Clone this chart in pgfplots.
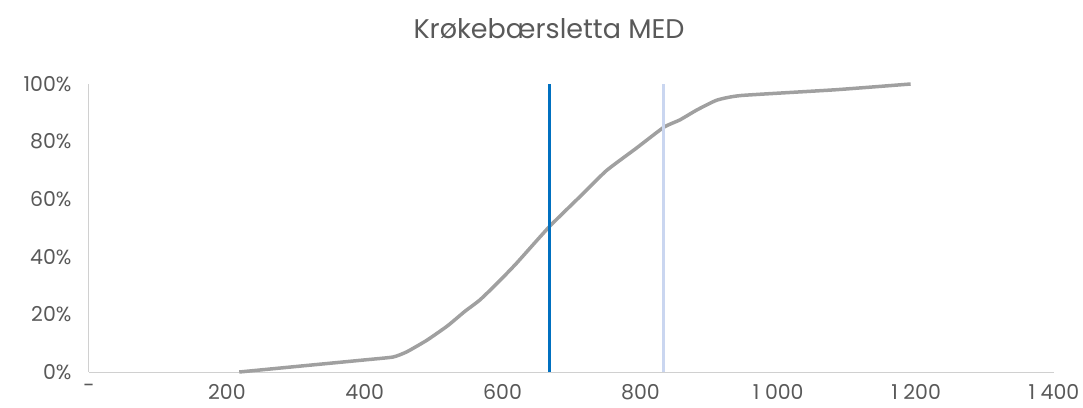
\documentclass[border=0pt]{standalone}
\usepackage{fontspec}
\setmainfont{Poppins}
\usepackage{pgfplots}
\pgfplotsset{compat=1.18}
\definecolor{txt}{HTML}{595959}
\definecolor{curve}{HTML}{A0A0A0}
\definecolor{medblue}{HTML}{0070C0}
\definecolor{lblue}{HTML}{CAD6F0}
\definecolor{axgray}{HTML}{D0D0D0}
\begin{document}
\begin{tikzpicture}
\path[use as bounding box] (-89pt,-35pt) rectangle (994pt,372pt);
\begin{axis}[
  at={(0,0)}, anchor=south west,
  scale only axis, width=965pt, height=288pt,
  xmin=0, xmax=1400, ymin=0, ymax=100,
  axis x line*=bottom, axis y line*=left,
  axis line style={axgray, line width=1pt, -},
  xtick={0,200,400,600,800,1000,1200,1400},
  xticklabels={-,200,400,600,800,1 000,1 200,1 400},
  ytick={0,20,40,60,80,100},
  yticklabels={0\%,20\%,40\%,60\%,80\%,100\%},
  major tick length=0pt,
  tick label style={font=\fontsize{20.5}{24}\selectfont, text=txt},
  xticklabel style={yshift=-9pt},
  yticklabel style={xshift=-14pt},
  clip=false,
]
\addplot[curve, line width=3.5pt, line join=round, smooth, tension=0.3] coordinates {
(218,0) (300,1.9) (400,4.2) (441,5.2) (461,7) (490,11) (520,16) (545,21) (567,25)
(593,31) (620,37.7) (668,50.5) (717,62) (751,70) (794,77.7) (834,85) (857,87.5)
(882,91) (911,94.4) (946,96) (1083,98) (1192,100)};
\addplot[medblue, line width=3.2pt] coordinates {(668,0) (668,100)};
\addplot[lblue, line width=3.2pt] coordinates {(834,0) (834,100)};
\end{axis}
\node[text=txt, font=\fontsize{27}{32}\selectfont] at (460pt,343pt) {Krøkebærsletta MED};
\end{tikzpicture}
\end{document}
